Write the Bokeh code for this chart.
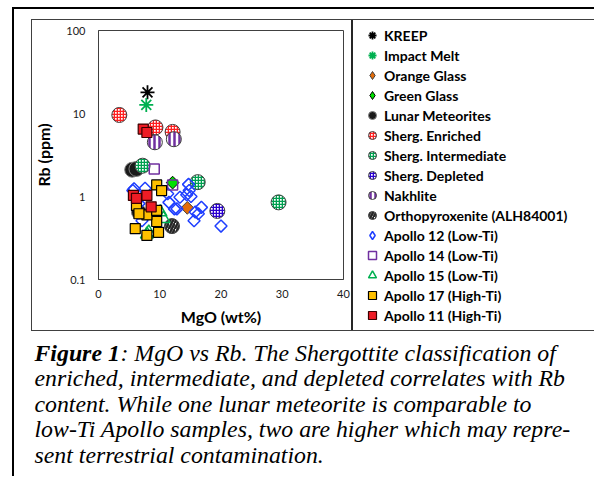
import numpy as np
from bokeh.plotting import figure
from bokeh.layouts import column, row
from bokeh.models import FixedTicker, Label, Legend, LegendItem, Range1d
from bokeh.core.properties import value
from bokeh.embed import file_html
from bokeh.resources import INLINE

# ---------------- data (MgO wt%, Rb ppm) ----------------
kreep_mgo = [8.0];            kreep_rb = [18.0]
impact_mgo = [7.8];           impact_rb = [12.7]
orange_mgo = [14.5];          orange_rb = [0.73]
green_mgo = [12.1];           green_rb = [1.47]
lunar_mgo = [5.5, 6.2, 6.6];  lunar_rb = [2.1, 2.15, 0.65]
enriched_mgo = [3.4, 9.3, 12.1];   enriched_rb = [9.6, 6.8, 6.0]
inter_mgo = [7.2, 16.2, 29.4];     inter_rb = [2.35, 1.49, 0.85]
depleted_mgo = [19.4];        depleted_rb = [0.67]
nakhlite_mgo = [9.2, 12.3];   nakhlite_rb = [4.5, 4.9]
opx_mgo = [12.0];             opx_rb = [0.44]
a12_mgo = [5.6, 6.5, 7.6, 6.6, 7.1, 11.3, 11.5, 12.4, 13.3, 14.4, 14.7, 15.1, 14.8,
           15.8, 15.6, 16.3, 16.8, 20.0, 12.8, 5.8]
a12_rb = [1.18, 1.03, 1.26, 0.82, 0.51, 1.08, 0.85, 0.71, 0.98, 1.05, 1.40, 1.00, 1.18,
          0.65, 0.51, 0.62, 0.74, 0.44, 0.71, 1.24]
a14_mgo = [9.1, 12.1];        a14_rb = [2.15, 1.38]
a15_mgo = [7.9, 8.2, 10.1, 10.6]; a15_rb = [0.35, 0.37, 0.65, 0.54]
a17_mgo = [9.5, 10.3, 6.0, 9.8, 9.5, 7.9, 6.2, 7.9, 9.5, 6.6]
a17_rb = [1.38, 1.18, 0.41, 0.37, 0.50, 0.34, 0.78, 0.60, 0.68, 0.62]
a11_mgo = [7.3, 7.9, 5.7, 7.9, 8.6, 6.2]
a11_rb = [6.5, 5.9, 1.03, 1.03, 0.75, 0.95]

x_ticks = [0, 10, 20, 30, 40]
y_ticks = [0.1, 1, 10, 100]
y_tick_labels = ["0.1", "1", "10", "100"]

caption_head = "Figure 1"
caption_first = ": MgO vs Rb. The Shergottite classification of"
caption_lines = [
    "enriched, intermediate, and depleted correlates with Rb",
    "content. While one lunar meteorite is comparable to",
    "low-Ti Apollo samples, two are higher which may repre-",
    "sent terrestrial contamination.",
]

# ---------------- series styles ----------------
HATCH = dict(fill_color="white", line_color="#404040", line_width=1)
series = [
    ("KREEP", kreep_mgo, kreep_rb,
     dict(marker="asterisk", size=14, line_color="black", line_width=1.8)),
    ("Impact Melt", impact_mgo, impact_rb,
     dict(marker="asterisk", size=14, line_color="#00B050", line_width=1.8)),
    ("Orange Glass", orange_mgo, orange_rb,
     dict(marker="diamond", size=9, fill_color="#E36C09", line_color="#404040", line_width=1)),
    ("Green Glass", green_mgo, green_rb,
     dict(marker="diamond", size=9, fill_color="#00E000", line_color="black", line_width=1)),
    ("Lunar Meteorites", lunar_mgo, lunar_rb,
     dict(marker="circle", size=15, fill_color="#1a1a1a", line_color="#808080", line_width=1)),
    ("Sherg. Enriched", enriched_mgo, enriched_rb,
     dict(marker="circle", size=15, hatch_pattern=value("cross"), hatch_color="#FF2020",
          hatch_scale=3, hatch_weight=1.6, **HATCH)),
    ("Sherg. Intermediate", inter_mgo, inter_rb,
     dict(marker="circle", size=15, hatch_pattern=value("cross"), hatch_color="#00A050",
          hatch_scale=3, hatch_weight=1.6, **HATCH)),
    ("Sherg. Depleted", depleted_mgo, depleted_rb,
     dict(marker="circle", size=15, hatch_pattern=value("cross"), hatch_color="#2B00D0",
          hatch_scale=3, hatch_weight=1.6, **HATCH)),
    ("Nakhlite", nakhlite_mgo, nakhlite_rb,
     dict(marker="circle", size=15, hatch_pattern=value("vertical_line"), hatch_color="#7030A0",
          hatch_scale=5, hatch_weight=2.5, **HATCH)),
    ("Orthopyroxenite (ALH84001)", opx_mgo, opx_rb,
     dict(marker="circle", size=15, hatch_pattern=value("right_diagonal_line"),
          hatch_color="#262626", hatch_scale=6, hatch_weight=2.5, **HATCH)),
    ("Apollo 12 (Low-Ti)", a12_mgo, a12_rb,
     dict(marker="diamond", size=8.5, fill_color=None, line_color="#1F3FFF", line_width=1.5)),
    ("Apollo 14 (Low-Ti)", a14_mgo, a14_rb,
     dict(marker="square", size=10, fill_color=None, line_color="#7030A0", line_width=1.5)),
    ("Apollo 15 (Low-Ti)", a15_mgo, a15_rb,
     dict(marker="triangle", size=13, fill_color=None, line_color="#00B050", line_width=1.5)),
    ("Apollo 17 (High-Ti)", a17_mgo, a17_rb,
     dict(marker="square", size=10, fill_color="#FFC000", line_color="black", line_width=1.2)),
    ("Apollo 11 (High-Ti)", a11_mgo, a11_rb,
     dict(marker="square", size=10, fill_color="#EE1C25", line_color="#3a0000", line_width=1.2)),
]

# ---------------- chart figure (plot + legend box) ----------------
C_W, C_H = 545, 312          # whole boxed area: plot part + legend part
DIV_X = 322                  # divider between plot part and legend part
FL, FT, FW, FH = 64, 11, 245, 249
p = figure(x_range=(0, 40), y_range=(0.1, 100), y_axis_type="log",
           frame_width=FW, frame_height=FH,
           min_border_left=FL, min_border_top=FT,
           min_border_right=C_W - FL - FW, min_border_bottom=C_H - FT - FH,
           output_backend="svg", toolbar_location=None,
           styles={"outline": "1.5px solid #404040", "outline-offset": "-1.5px",
                   "background": "linear-gradient(to right, transparent %.1fpx, #262626 %.1fpx, "
                                 "#262626 %.1fpx, transparent %.1fpx)" % (DIV_X - 1.5, DIV_X - 1.5,
                                                                         DIV_X + 0.5, DIV_X + 0.5)})
p.background_fill_color = "white"
p.border_fill_alpha = 0
p.outline_line_color = "#404040"
p.outline_line_width = 1
p.grid.visible = False

for ax in (p.xaxis[0], p.yaxis[0]):
    ax.major_tick_line_color = None
    ax.minor_tick_line_color = None
    ax.major_tick_out = 0
    ax.major_tick_in = 0
    ax.minor_tick_out = 0
    ax.minor_tick_in = 0
    ax.axis_line_color = "#404040"
    ax.major_label_text_font = "Lato"
    ax.major_label_text_font_size = "11px"
    ax.major_label_text_color = "#1a1a1a"
    ax.axis_label_text_font = "Lato"
    ax.axis_label_text_font_style = "bold"
    ax.axis_label_text_font_size = "16px"
    ax.axis_label_text_color = "black"

p.xaxis.ticker = FixedTicker(ticks=x_ticks)
p.yaxis.ticker = FixedTicker(ticks=y_ticks)
p.yaxis.major_label_overrides = {t: l for t, l in zip(y_ticks, y_tick_labels)}
p.xaxis.major_label_standoff = 10
p.yaxis.major_label_standoff = 13
p.xaxis.axis_label = "MgO (wt%)"
p.yaxis.axis_label = "Rb (ppm)"
p.xaxis.axis_label_standoff = 6
p.yaxis.axis_label_standoff = 10

# off-screen range used only for legend swatches
p.extra_y_ranges = {"swatch": Range1d(1000, 1001)}

items = []
for label, xs, ys, kw in series:
    ckw = dict(kw)
    if ckw["marker"] == "diamond":
        # Excel-style diamond: a square turned 45 degrees
        ckw.update(marker="square", angle=np.pi / 4)
    p.scatter(xs, ys, **ckw)
    sw = p.scatter(xs, ys, y_range_name="swatch", **kw)
    items.append(LegendItem(label=label, renderers=[sw]))

legend = Legend(items=items, location=(19, -46),
                glyph_width=20, glyph_height=20, label_height=20, spacing=0,
                padding=0, margin=0, label_standoff=2,
                label_text_font="Lato", label_text_font_style="bold",
                label_text_font_size="14px", label_text_color="black",
                border_line_color=None, background_fill_alpha=0)
p.add_layout(legend, "right")

# ---------------- caption figure ----------------
K_W, K_H = 560, 145
K_LEFT, K_TOP = 18, 331
cap = figure(width=K_W, height=K_H, frame_width=K_W, frame_height=K_H, title=None,
             x_range=(0, 1), y_range=(0, 1),
             min_border=0, x_axis_location=None, y_axis_location=None,
             output_backend="svg", toolbar_location=None)
cap.grid.visible = False
cap.outline_line_color = None

def kx(wx):
    return wx - K_LEFT
def ky(wy):
    return K_TOP + K_H - wy

cap_font = "Liberation Serif"
cap_size = "23.8px"
cap.add_layout(Label(x=kx(32), y=ky(352), x_units="screen", y_units="screen",
                     text=caption_head, text_font=cap_font, text_font_style="bold italic",
                     text_font_size=cap_size, text_baseline="middle", text_color="black"))
cap.add_layout(Label(x=kx(118), y=ky(352), x_units="screen", y_units="screen",
                     text=caption_first, text_font=cap_font, text_font_style="italic",
                     text_font_size=cap_size, text_baseline="middle", text_color="black"))
for i, line in enumerate(caption_lines):
    cap.add_layout(Label(x=kx(32), y=ky(377.5 + 25.5 * i), x_units="screen", y_units="screen",
                         text=line, text_font=cap_font, text_font_style="italic",
                         text_font_size=cap_size, text_baseline="middle", text_color="black"))

# the plot sits in its own row so the column does not align the caption's frame with it
top_row = row(p, spacing=0, margin=(10, 0, 0, 17))
cap.margin = (0, 0, 0, 6)
root = column(top_row, cap, spacing=0, margin=(7, 0, 0, 12),
              styles={"border-top": "2px solid black", "border-left": "2px solid black"})

open("out.html", "w").write(file_html(root, INLINE))
